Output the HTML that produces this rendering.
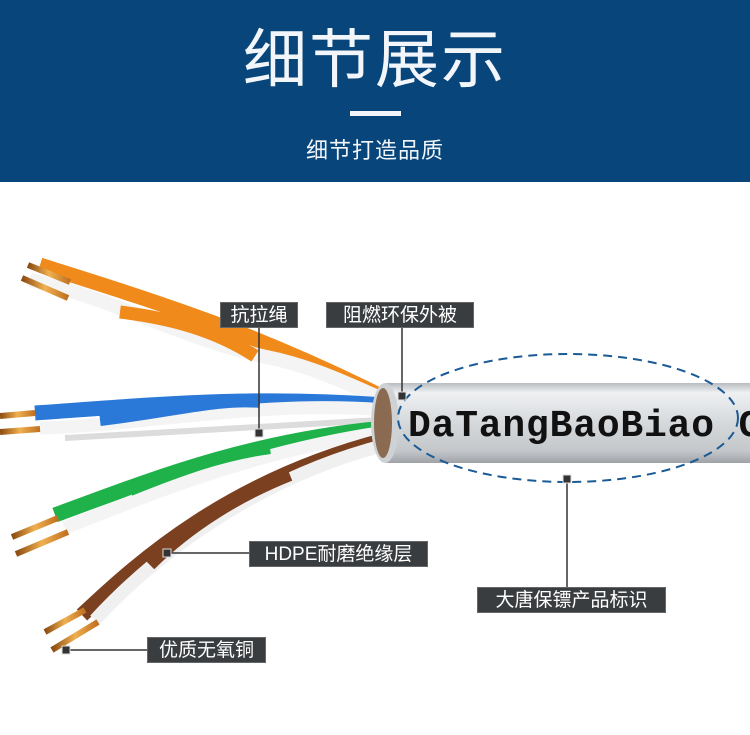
<!DOCTYPE html>
<html><head><meta charset="utf-8"><style>
html,body{margin:0;padding:0;background:#fff;}
body{width:750px;height:735px;position:relative;overflow:hidden;font-family:"Liberation Sans","Noto Sans CJK SC",sans-serif;}
.hdr{position:absolute;left:0;top:0;width:750px;height:182px;background:#07457a;}
.t1{position:absolute;left:0;width:750px;top:22px;text-align:center;color:#f2f6fa;font-size:64px;line-height:76px;letter-spacing:2px;}
.bar{position:absolute;left:350px;top:111px;width:51px;height:5px;background:#f2f6fa;}
.t2{position:absolute;left:0;width:750px;top:136px;text-align:center;color:#f2f6fa;font-size:22px;line-height:30px;letter-spacing:1px;}
.lb{position:absolute;background:#3a3d40;color:#fff;font-size:19px;line-height:26px;height:26px;text-align:center;border:1px solid #666;box-sizing:border-box;}
</style></head><body>
<div class="hdr"><div class="t1">细节展示</div><div class="bar"></div><div class="t2">细节打造品质</div></div>
<svg width="750" height="735" style="position:absolute;left:0;top:0">
<defs>
<linearGradient id="jk" x1="0" y1="0" x2="0" y2="1">
<stop offset="0" stop-color="#b8bcc0"/><stop offset="0.12" stop-color="#eef0f2"/><stop offset="0.5" stop-color="#d6d9dc"/><stop offset="0.85" stop-color="#c4c7ca"/><stop offset="1" stop-color="#9ea2a6"/></linearGradient>
<linearGradient id="cu" x1="0" y1="0" x2="1" y2="0"><stop offset="0" stop-color="#8a4a10"/><stop offset="0.5" stop-color="#f0b050"/><stop offset="1" stop-color="#c07020"/></linearGradient>
</defs>
<path d="M65,438 L380,420" stroke="#dcdcdc" stroke-width="6"/>
<path d="M40,265 C150,300 250,330 385,398" stroke="#f08a1a" stroke-width="15" fill="none"/>
<path d="M30,280 C120,300 180,340 280,360 C320,370 350,385 385,400" stroke="#f4f4f4" stroke-width="14" fill="none"/>
<path d="M120,312 C170,318 215,330 255,356" stroke="#f08a1a" stroke-width="13" fill="none"/>
<path d="M28,265 L70,282" stroke="url(#cu)" stroke-width="6"/><path d="M22,278 L68,298" stroke="url(#cu)" stroke-width="6"/>
<path d="M35,413 C150,405 250,395 385,405" stroke="#2a78d8" stroke-width="15" fill="none"/>
<path d="M40,428 C150,425 260,400 385,410" stroke="#f4f4f4" stroke-width="13" fill="none"/>
<path d="M100,420 C170,412 220,398 260,402" stroke="#2a78d8" stroke-width="12" fill="none"/>
<path d="M0,416 L35,413" stroke="url(#cu)" stroke-width="6"/><path d="M0,432 L40,429" stroke="url(#cu)" stroke-width="6"/>
<path d="M55,515 C150,480 250,440 385,428" stroke="#1fb24a" stroke-width="15" fill="none"/>
<path d="M65,528 C160,490 260,450 385,432" stroke="#f4f4f4" stroke-width="13" fill="none"/>
<path d="M130,490 C180,470 220,455 270,448" stroke="#1fb24a" stroke-width="12" fill="none"/>
<path d="M12,537 L58,518" stroke="url(#cu)" stroke-width="6"/><path d="M16,554 L68,532" stroke="url(#cu)" stroke-width="6"/>
<path d="M82,615 C140,560 230,480 385,440" stroke="#7a4020" stroke-width="15" fill="none"/>
<path d="M95,620 C150,560 250,480 385,445" stroke="#f0f0f0" stroke-width="13" fill="none"/>
<path d="M150,565 C190,525 240,495 290,475" stroke="#7a4020" stroke-width="12" fill="none"/>
<path d="M45,632 L85,610" stroke="url(#cu)" stroke-width="6"/><path d="M52,650 L98,622" stroke="url(#cu)" stroke-width="6"/>
<rect x="385" y="383" width="365" height="80" fill="url(#jk)"/>
<ellipse cx="385" cy="423" rx="14" ry="40" fill="#cfd2d5"/>
<ellipse cx="383" cy="423" rx="9" ry="35" fill="#8a6a50"/>
<text x="408" y="436" font-family="Liberation Mono,monospace" font-size="38" font-weight="bold" fill="#111" style="letter-spacing:0.8px">DaTangBaoBiao C</text>
<ellipse cx="568" cy="418" rx="170" ry="64" fill="none" stroke="#1a5a96" stroke-width="2" stroke-dasharray="9 6"/>
<g stroke="#333" stroke-width="1.5" fill="none">
<line x1="259" y1="328" x2="259" y2="433"/>
<line x1="402" y1="328" x2="402" y2="395"/>
<line x1="567" y1="478" x2="567" y2="587"/>
<line x1="167" y1="553" x2="249" y2="553"/>
<line x1="66" y1="650" x2="147" y2="650"/>
</g>
<g fill="#333" stroke="#ddd" stroke-width="1">
<rect x="255" y="429" width="8" height="8"/><rect x="398" y="392" width="8" height="8"/>
<rect x="563" y="475" width="8" height="8"/><rect x="163" y="549" width="8" height="8"/>
<rect x="62" y="646" width="8" height="8"/>
</g>
</svg>
<div class="lb" style="left:220px;top:302px;width:78px;">抗拉绳</div>
<div class="lb" style="left:326px;top:302px;width:148px;">阻燃环保外被</div>
<div class="lb" style="left:249px;top:541px;width:179px;">HDPE耐磨绝缘层</div>
<div class="lb" style="left:477px;top:587px;width:189px;">大唐保镖产品标识</div>
<div class="lb" style="left:147px;top:637px;width:119px;">优质无氧铜</div>
</body></html>
